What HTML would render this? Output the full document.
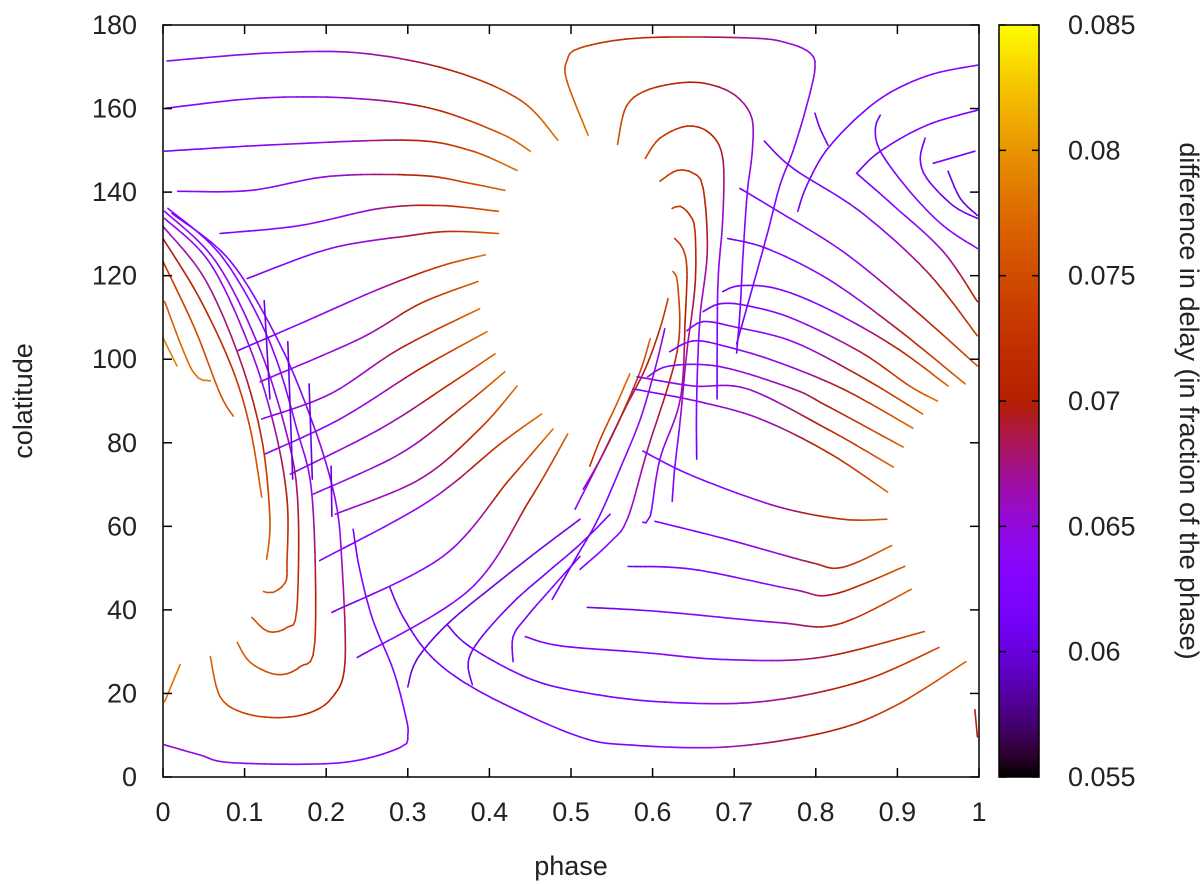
<!DOCTYPE html>
<html><head><meta charset="utf-8"><style>
html,body{margin:0;padding:0;background:#fff;}
svg{display:block;font-family:"Liberation Sans","DejaVu Sans",sans-serif;}
</style></head><body>
<svg id="chart" width="1200" height="884" viewBox="0 0 1200 884">
<defs><linearGradient id="cbgrad" x1="0" y1="1" x2="0" y2="0"></linearGradient></defs>
<g id="curves"></g>
<rect x="163" y="25" width="816" height="752" fill="none" stroke="#000" stroke-width="1.5"/>
<g id="axes"></g>
<text x="571" y="875" font-size="27" text-anchor="middle" fill="#222">phase</text>
<text transform="translate(32,401) rotate(-90)" font-size="27" text-anchor="middle" fill="#222">colatitude</text>
<rect x="999" y="25" width="40" height="752" fill="url(#cbgrad)" stroke="#000" stroke-width="1.5"/>
<g id="cbaxis"></g>
<text transform="translate(1180,401) rotate(90)" font-size="27" text-anchor="middle" fill="#222">difference in delay (in fraction of the phase)</text>
</svg>
<script>
const xTicks = [0,0.1,0.2,0.3,0.4,0.5,0.6,0.7,0.8,0.9,1];
const xTickLabels = ["0","0.1","0.2","0.3","0.4","0.5","0.6","0.7","0.8","0.9","1"];
const yTicks = [0,20,40,60,80,100,120,140,160,180];
const yTickLabels = ["0","20","40","60","80","100","120","140","160","180"];
const cbTicks = [0.055,0.06,0.065,0.07,0.075,0.08,0.085];
const cbTickLabels = ["0.055","0.06","0.065","0.07","0.075","0.08","0.085"];
const curveNames = ["a1","a2","a3","a4","a5","a6","a7","a8","a9","a10","a11","a12","a13","a14","a15","a16",
"l1","l2","l3","l4","l5","l6","l7","l8","l9","m","l11","v1","v2","v3","v4","v6","w1","w2","x2","x3","x4",
"r1","r2","r3","r4","r5","r6","r7","b1","b2","b3","b4",
"da","db","dc","dd","de","df","dg","dh","di","dj","dk",
"t1","t2","t3","t4","t5","t6","t7","t8","g1","g2","g3","g4"];
const curvePhase = [
[.005,.131,.241,.352,.438,.484],
[.004,.119,.229,.327,.413,.450],
[.002,.143,.303,.376,.434],
[.018,.107,.205,.315,.376,.419],
[.070,.168,.266,.339,.411],
[.103,.205,.303,.352,.411],
[.091,.168,.266,.339,.395],
[.119,.241,.315,.386],
[.121,.205,.290,.388],
[.125,.217,.315,.397],
[.156,.266,.352,.407],
[.184,.290,.364,.419],
[.211,.315,.388,.434],
[.192,.324,.413,.464],
[.207,.343,.425,.478],
[.238,.376,.450,.496],
[0,.017],
[.002,.036,.058],
[0,.039,.070,.086],
[0,.045,.085,.107,.121],
[0,.051,.094,.121,.131,.127],
[.002,.058,.107,.137,.152,.152,.150,.135,.123],
[.002,.064,.116,.150,.165,.164,.152,.129,.109],
[.006,.072,.129,.164,.183,.186,.168,.140,.107,.091],
[.011,.082,.143,.186,.211,.219,.223,.208,.180,.140,.098,.070,.058],
[.233,.241,.257,.282,.297,.300,.290,.217,.086,.045,.002],
[.002,.021],
[.124,.131],
[.153,.159],
[.179,.183],
[.206,.207],
[.278,.294,.324,.364,.425,.511,.569,.691,.814,.895,.984],
[.348,.376,.446,.511,.609,.732,.854,.951],
[.444,.487,.588,.691,.805,.933],
[.300,.311,.348,.404,.462,.511],
[.379,.374,.388,.429,.468,.511,.548],
[.429,.429,.446,.478,.511],
[.521,.495,.495,.511,.585,.719,.765,.793,.799,.789,.772,.756,.740,.722,.703],
[.557,.568,.596,.645,.682,.707,.722,.722,.716,.711,.707,.703],
[.591,.609,.642,.670,.686,.686,.680,.679],
[.609,.630,.650,.662,.667,.658,.654,.654],
[.624,.634,.646,.652,.652,.642,.634,.627,.624],
[.627,.637,.642,.640,.634,.609,.597,.588],
[.625,.631,.630,.593,.569,.548,.511],
[.619,.609,.591,.566,.536,.505],
[.597,.585,.560,.536,.515],
[.572,.556,.536,.523],
[.615,.603,.585,.560,.533,.505,.477],
[.686,.707,.752,.814,.895,.962],
[.662,.683,.716,.772,.854,.915,.949],
[.642,.662,.699,.772,.854,.931],
[.621,.650,.691,.752,.833,.919],
[.594,.621,.683,.772,.814,.907],
[.581,.650,.716,.814,.895],
[.576,.658,.732,.814,.888],
[.588,.650,.752,.833,.887],
[.603,.691,.793,.833,.893],
[.570,.650,.772,.821,.909],
[.520,.609,.752,.826,.917],
[.998,.936,.875,.817,.789,.778],
[.998,.936,.879,.850],
[.995,.944],
[.879,.873,.879,.915,.956,.998],
[.934,.928,.936,.968,.998],
[.962,.977,.998],
[.799,.805,.815],
[.995,.998],
[.737,.772,.854,.936,.998],
[.707,.748,.833,.915,.998],
[.692,.740,.814,.895,.983],
[.850,.895,.956,.998]
];
const curveColat = [
[171.4,173.3,173.3,169.2,162.0,152.4],
[160.1,162.5,162.5,160.1,154.1,149.8],
[149.8,151.4,152.4,150.0,145.2],
[140.2,140.4,143.8,144.0,142.1,140.4],
[130.1,132.0,136.1,136.8,135.4],
[119.3,126.5,129.6,130.6,130.1],
[102.0,108.5,116.9,122.2,125.0],
[94.6,104.9,113.3,118.6],
[85.7,91.7,102.5,112.1],
[77.3,85.7,97.7,106.6],
[72.5,83.3,94.1,101.3],
[67.7,77.3,88.1,97.0],
[62.9,71.3,83.3,93.6],
[51.8,65.8,79.7,86.9],
[39.4,52.8,71.3,83.3],
[28.6,44.9,66.5,82.1],
[105.1,98.4],
[113.8,97.2,94.8],
[123.4,107.3,91.7,86.4],
[128.9,114.5,97.7,83.3,67.0],
[131.8,119.3,100.1,80.9,61.7,52.1],
[133.7,122.9,102.5,83.3,66.5,51.4,46.6,44.2,44.4],
[135.4,123.6,103.7,83.3,66.5,40.1,35.8,34.8,38.2],
[136.1,124.6,104.9,83.3,66.5,32.2,26.4,24.5,27.4,32.2],
[134.9,123.6,103.7,83.3,66.5,52.1,27.4,19.2,15.4,14.2,15.4,19.2,28.8],
[59.3,49.7,37.7,25.7,14.9,10.1,7.0,3.4,3.4,5.3,7.7],
[18.0,26.9],
[114.0,90.5],
[104.2,71.3],
[94.1,71.3],
[74.4,62.4],
[45.4,38.4,29.8,23.3,16.8,9.6,7.7,7.2,10.8,16.8,27.6],
[36.5,31.2,23.8,20.4,18.0,18.0,22.8,31.0],
[33.6,31.4,29.8,28.1,28.6,34.8],
[21.6,28.1,36.5,45.6,54.5,61.7],
[22.1,27.4,32.9,41.8,48.5,55.7,62.9],
[27.6,33.6,38.4,45.6,52.8],
[153.6,166.6,171.4,174.5,176.9,176.9,175.7,173.3,169.7,160.8,149.8,141.6,129.6,116.9,103.7],
[151.4,160.6,164.6,166.3,165.1,162.2,157.4,149.5,139.9,125.5,111.1,101.5],
[148.1,152.9,155.8,154.1,148.1,133.7,117.6,90.5],
[142.6,145.2,144.5,140.9,125.8,109.7,90.5,76.1],
[136.1,136.6,134.4,130.6,117.6,101.8,85.7,73.7,66.0],
[128.9,126.5,121.7,109.7,90.5,76.1,62.4,61.0],
[121.0,117.6,101.8,77.8,61.7,56.2,49.7],
[114.5,107.3,97.7,88.1,76.1,64.1],
[104.9,97.2,85.7,76.1,68.9],
[96.5,89.3,80.9,74.4],
[107.3,97.7,85.7,73.7,61.7,52.1,42.5],
[116.2,117.6,116.9,112.1,103.2,93.6],
[111.4,113.3,112.8,109.7,101.8,93.6,90.0],
[106.8,109.0,107.8,104.2,96.0,86.9],
[101.8,104.4,103.0,99.4,92.9,83.5],
[95.8,98.4,98.2,92.9,88.8,79.0],
[95.8,93.6,92.9,83.3,74.2],
[92.9,89.8,85.7,77.8,68.2],
[78.0,72.0,64.8,61.7,61.7],
[61.2,56.9,51.4,50.2,55.4],
[50.4,49.7,44.9,43.7,50.4],
[40.6,39.6,37.0,36.5,44.9],
[170.4,167.8,161.8,151.0,141.6,135.4],
[159.6,156.0,149.8,144.5],
[149.8,146.9],
[158.4,155.3,149.8,140.2,132.0,126.5],
[152.9,148.1,143.3,136.8,133.7],
[145.0,138.5,134.4],
[158.9,155.3,151.2],
[16.1,9.6],
[152.2,145.7,135.4,121.0,105.6],
[140.9,136.1,125.8,112.8,98.4],
[128.9,126.5,119.3,108.0,94.1],
[144.5,136.8,125.8,113.8]
];
const curveValue = [
[.064,.066,.078],[.063,.065,.078],[.062,.065,.078],[.063,.065,.077],[.062,.065,.076],[.062,.065,.076],
[.062,.064,.078],[.064,.066,.077],[.064,.066,.078],[.063,.065,.078],[.064,.066,.077],[.064,.066,.078],
[.065,.067,.078],[.062,.065,.078],[.061,.064,.078],[.062,.064,.077],
[.079,.079,.079],[.076,.077,.078],[.073,.075,.076],[.069,.072,.077],[.066,.069,.077],[.064,.065,.076],
[.064,.065,.076],[.063,.064,.077],[.063,.064,.077],[.062,.063,.065],[.078,.078,.079],
[.060,.060,.060],[.060,.060,.060],[.060,.060,.060],[.060,.060,.060],
[.061,.063,.077],[.061,.063,.075],[.062,.063,.075],[.060,.060,.061],[.061,.061,.062],[.062,.062,.063],
[.078,.065,.061],[.076,.065,.061],[.075,.065,.061],[.074,.066,.061],[.073,.067,.062],[.074,.067,.062],[.076,.068,.063],
[.074,.067,.063],[.077,.070,.066],[.078,.075,.072],[.065,.063,.061],
[.061,.064,.077],[.061,.065,.078],[.062,.065,.077],[.062,.065,.078],[.063,.066,.077],[.063,.066,.077],
[.063,.066,.077],[.062,.065,.076],[.062,.065,.077],[.061,.064,.076],[.061,.064,.077],
[.064,.062,.061],[.063,.062,.061],[.062,.062,.062],[.061,.063,.064],[.061,.061,.061],[.060,.060,.060],[.061,.061,.061],
[.070,.070,.070],[.061,.064,.074],[.062,.065,.076],[.061,.065,.077],[.062,.064,.071]
];

const NS = "http://www.w3.org/2000/svg";
const X0 = 163, X1 = 979, Y0 = 777, Y1 = 25;
function xScale(p){ return X0 + (X1 - X0) * p; }
function yScale(c){ return Y0 - (Y0 - Y1) * c / 180; }
const VMIN = 0.055, VMAX = 0.085;
function cbScale(v){ return Y0 - (Y0 - Y1) * (v - VMIN) / (VMAX - VMIN); }
function colorOf(v){
  let t = (v - VMIN) / (VMAX - VMIN); t = Math.max(0, Math.min(1, t));
  const r = Math.sqrt(t), g = t*t*t, b = Math.max(0, Math.sin(2*Math.PI*t));
  return "rgb(" + Math.round(r*255) + "," + Math.round(g*255) + "," + Math.round(b*255) + ")";
}
function smooth(pts){
  const n = pts.length; if (n < 3) return pts;
  const out = [];
  for (let i = 0; i < n-1; i++) {
    const p0 = pts[Math.max(0,i-1)], p1 = pts[i], p2 = pts[i+1], p3 = pts[Math.min(n-1,i+2)];
    const seg = Math.max(2, Math.ceil(Math.hypot(p2[0]-p1[0], p2[1]-p1[1]) / 6));
    for (let s = 0; s < seg; s++) {
      const t = s/seg, t2 = t*t, t3 = t2*t;
      const f = (a,b,c,d) => 0.5*((2*b)+(-a+c)*t+(2*a-5*b+4*c-d)*t2+(-a+3*b-3*c+d)*t3);
      out.push([f(p0[0],p1[0],p2[0],p3[0]), f(p0[1],p1[1],p2[1],p3[1])]);
    }
  }
  out.push(pts[n-1]);
  return out;
}

const gCurves = document.getElementById("curves");
for (let i = 0; i < curvePhase.length; i++) {
  const P = curvePhase[i], C = curveColat[i], V = curveValue[i];
  const g = document.createElementNS(NS, "g");
  
  
  const pts = smooth(P.map((p, k) => [xScale(p), yScale(C[k])]));
  const n = pts.length;
  const cum = [0];
  for (let k = 1; k < n; k++) cum.push(cum[k-1] + Math.hypot(pts[k][0]-pts[k-1][0], pts[k][1]-pts[k-1][1]));
  const total = cum[n-1] || 1;
  for (let k = 1; k < n; k++) {
    const u = (cum[k-1] + cum[k]) / 2 / total;
    const v = u < 0.5 ? V[0] + (V[1]-V[0])*u*2 : V[1] + (V[2]-V[1])*(u-0.5)*2;
    const ln = document.createElementNS(NS, "line");
    ln.setAttribute("x1", pts[k-1][0].toFixed(1)); ln.setAttribute("y1", pts[k-1][1].toFixed(1));
    ln.setAttribute("x2", pts[k][0].toFixed(1)); ln.setAttribute("y2", pts[k][1].toFixed(1));
    ln.setAttribute("stroke", colorOf(v)); ln.setAttribute("stroke-width", "1.6");
    ln.setAttribute("stroke-linecap", "round");
    
    
    g.appendChild(ln);
  }
  gCurves.appendChild(g);
}

const axes = document.getElementById("axes");
function mk(tag, attrs){ const e = document.createElementNS(NS, tag); for (const k in attrs) e.setAttribute(k, attrs[k]); return e; }
xTicks.forEach((t, i) => {
  const x = xScale(t);
  const a = mk("line", {x1:x, y1:Y0, x2:x, y2:Y0-9, stroke:"#000", "stroke-width":1.5});
  
  
  axes.appendChild(a);
  const b = mk("line", {x1:x, y1:Y1, x2:x, y2:Y1+9, stroke:"#000", "stroke-width":1.5});
  
  
  axes.appendChild(b);
  const tx = mk("text", {x:x, y:821, "font-size":27, "text-anchor":"middle", fill:"#222"});
  tx.textContent = xTickLabels[i];
  
  
  axes.appendChild(tx);
});
yTicks.forEach((t, i) => {
  const y = yScale(t);
  const a = mk("line", {x1:X0, y1:y, x2:X0+9, y2:y, stroke:"#000", "stroke-width":1.5});
  
  
  axes.appendChild(a);
  const b = mk("line", {x1:X1, y1:y, x2:X1-9, y2:y, stroke:"#000", "stroke-width":1.5});
  
  
  axes.appendChild(b);
  const tx = mk("text", {x:137, y:y+9, "font-size":27, "text-anchor":"end", fill:"#222"});
  tx.textContent = yTickLabels[i];
  
  
  axes.appendChild(tx);
});

const grad = document.getElementById("cbgrad");
for (let k = 0; k <= 40; k++) {
  const v = VMIN + (VMAX - VMIN) * k / 40;
  const st = mk("stop", {offset: (k/40*100).toFixed(1) + "%", "stop-color": colorOf(v)});
  grad.appendChild(st);
}
const cba = document.getElementById("cbaxis");
cbTicks.forEach((t, i) => {
  const y = cbScale(t);
  const a = mk("line", {x1:999, y1:y, x2:1006, y2:y, stroke:"#000", "stroke-width":1.5});
  
  
  cba.appendChild(a);
  const b = mk("line", {x1:1032, y1:y, x2:1039, y2:y, stroke:"#000", "stroke-width":1.5});
  
  
  cba.appendChild(b);
  const tx = mk("text", {x:1068, y:y+9, "font-size":27, "text-anchor":"start", fill:"#222"});
  tx.textContent = cbTickLabels[i];
  
  
  cba.appendChild(tx);
});
</script>
</body></html>
